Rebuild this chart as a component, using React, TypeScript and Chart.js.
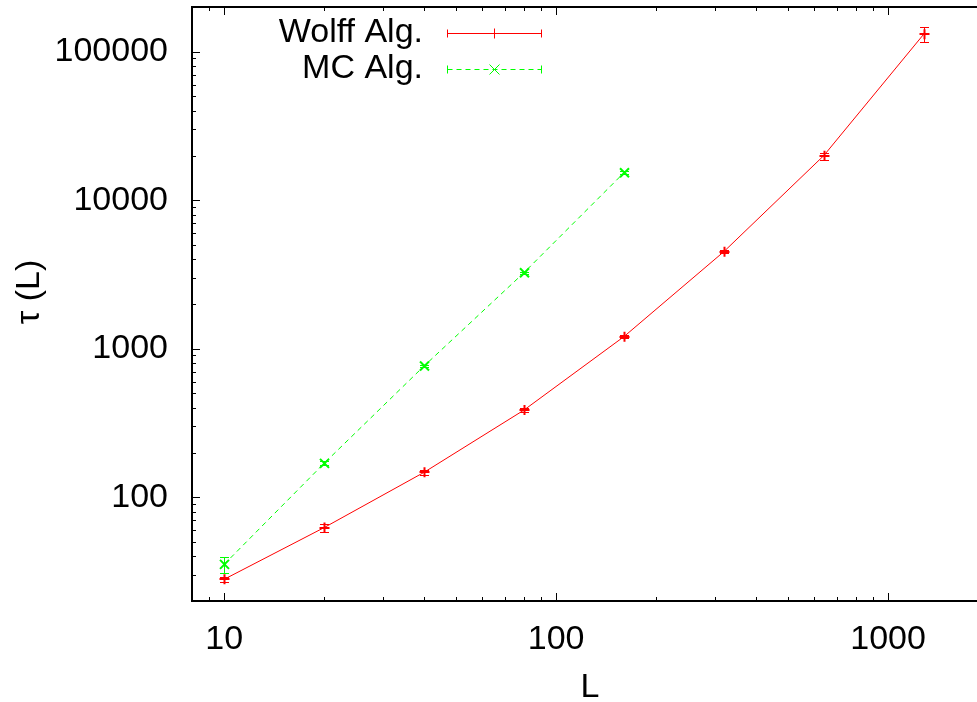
import React, { useEffect, useRef } from "react";
import { Chart, registerables } from "chart.js";

Chart.register(...registerables);

// ---- data ----
const wolffL = [10, 20, 40, 80, 160, 320, 640, 1280];
const wolffTau = [28, 62.4, 147, 386, 1205, 4500, 19950, 131000];
const wolffLo = [27, 58.6, 142, 376, 1175, 4390, 18660, 116000];
const wolffHi = [29, 66, 152, 396, 1235, 4610, 20900, 146000];

const mcL = [10, 20, 40, 80, 160];
const mcTau = [35.3, 169, 764, 3250, 15300];
const mcLo = [30.9, 164, 748, 3190, 14950];
const mcHi = [39.5, 174, 780, 3310, 15650];

const xTickLabels = [10, 100, 1000];
const yTickLabels = [100, 1000, 10000, 100000];

const X_MIN = 8;
const X_MAX = 2000;
const Y_MIN = 20;
const Y_MAX = 200000;

const FONT = "'Liberation Sans', Arial, Helvetica, sans-serif";
const RED = "#ff0000";
const GREEN = "#00ff00";
const COLORS = [RED, GREEN];
const DASHES = [[], [5, 4]];
const MARKERS = ["plus", "x"];

function logTicks(min: number, max: number): number[] {
  const out: number[] = [];
  for (let e = Math.floor(Math.log10(min)); e <= Math.ceil(Math.log10(max)); e++) {
    for (let m = 1; m <= 9; m++) {
      const v = m * Math.pow(10, e);
      if (v >= min - 1e-9 && v <= max + 1e-9) out.push(v);
    }
  }
  return out;
}

function isMajor(v: number): boolean {
  const l = Math.log10(v);
  return Math.abs(l - Math.round(l)) < 1e-9;
}

const errors: { lo: number[]; hi: number[] }[] = [
  { lo: wolffLo, hi: wolffHi },
  { lo: mcLo, hi: mcHi },
];

const gnuPlugin = {
  id: "gnuStyle",
  beforeDatasetsDraw(chart: any) {
    const { ctx, chartArea: a, scales } = chart;
    const xs = scales.x;
    const ys = scales.y;
    ctx.save();
    ctx.strokeStyle = "#000";
    ctx.lineWidth = 1;
    for (const v of logTicks(X_MIN, X_MAX)) {
      const px = Math.round(xs.getPixelForValue(v)) + 0.5;
      const len = isMajor(v) ? 8 : 4;
      ctx.beginPath();
      ctx.moveTo(px, a.bottom);
      ctx.lineTo(px, a.bottom - len);
      ctx.moveTo(px, a.top);
      ctx.lineTo(px, a.top + len);
      ctx.stroke();
    }
    for (const v of logTicks(Y_MIN, Y_MAX)) {
      const py = Math.round(ys.getPixelForValue(v)) + 0.5;
      const len = isMajor(v) ? 8 : 4;
      ctx.beginPath();
      ctx.moveTo(a.left, py);
      ctx.lineTo(a.left + len, py);
      ctx.moveTo(a.right, py);
      ctx.lineTo(a.right - len, py);
      ctx.stroke();
    }
    ctx.lineWidth = 2;
    ctx.strokeRect(a.left, a.top, a.right - a.left, a.bottom - a.top);
    ctx.restore();
  },
  afterDatasetsDraw(chart: any) {
    const { ctx, scales } = chart;
    const xs = scales.x;
    const ys = scales.y;
    ctx.save();
    chart.data.datasets.forEach((ds: any, i: number) => {
      const err = errors[i];
      ctx.strokeStyle = COLORS[i];
      ctx.lineWidth = 1;
      ctx.setLineDash([]);
      ds.data.forEach((p: any, j: number) => {
        const px = Math.round(xs.getPixelForValue(p.x)) + 0.5;
        const py = ys.getPixelForValue(p.y);
        const y1 = ys.getPixelForValue(err.lo[j]);
        const y2 = ys.getPixelForValue(err.hi[j]);
        ctx.beginPath();
        ctx.moveTo(px, y1);
        ctx.lineTo(px, y2);
        ctx.moveTo(px - 4.5, Math.round(y1) + 0.5);
        ctx.lineTo(px + 4.5, Math.round(y1) + 0.5);
        ctx.moveTo(px - 4.5, Math.round(y2) + 0.5);
        ctx.lineTo(px + 4.5, Math.round(y2) + 0.5);
        ctx.stroke();
        // bold marker (gnuplot-like)
        ctx.lineWidth = 2;
        ctx.beginPath();
        if (MARKERS[i] === "plus") {
          ctx.moveTo(px - 5, Math.round(py));
          ctx.lineTo(px + 5, Math.round(py));
          ctx.moveTo(px, py - 5);
          ctx.lineTo(px, py + 5);
        } else {
          ctx.moveTo(px - 4.5, py - 4.5);
          ctx.lineTo(px + 4.5, py + 4.5);
          ctx.moveTo(px - 4.5, py + 4.5);
          ctx.lineTo(px + 4.5, py - 4.5);
        }
        ctx.stroke();
        ctx.lineWidth = 1;
      });
    });
    ctx.restore();
  },
  afterDraw(chart: any) {
    const { ctx } = chart;
    ctx.save();
    const rows = [33, 69];
    ctx.font = `34px ${FONT}`;
    ctx.textAlign = "right";
    ctx.textBaseline = "middle";
    chart.data.datasets.forEach((ds: any, i: number) => {
      const y = rows[i] + 0.5;
      ctx.fillStyle = "#000000";
      ctx.fillText(ds.label, 423, rows[i]);
      const x1 = 447.5;
      const x2 = 541.5;
      ctx.strokeStyle = COLORS[i];
      ctx.lineWidth = 1;
      ctx.setLineDash(DASHES[i]);
      ctx.beginPath();
      ctx.moveTo(x1, y);
      ctx.lineTo(x2, y);
      ctx.stroke();
      ctx.setLineDash([]);
      ctx.beginPath();
      ctx.moveTo(x1, y - 4);
      ctx.lineTo(x1, y + 4);
      ctx.moveTo(x2, y - 4);
      ctx.lineTo(x2, y + 4);
      ctx.stroke();
      const mx = 494.5;
      ctx.beginPath();
      if (MARKERS[i] === "plus") {
        ctx.moveTo(mx, y - 5);
        ctx.lineTo(mx, y + 5);
        ctx.moveTo(mx - 5, y);
        ctx.lineTo(mx + 5, y);
      } else {
        ctx.moveTo(mx - 5, y - 5);
        ctx.lineTo(mx + 5, y + 5);
        ctx.moveTo(mx - 5, y + 5);
        ctx.lineTo(mx + 5, y - 5);
      }
      ctx.stroke();
    });
    ctx.fillStyle = "#000";
    ctx.textAlign = "center";
    ctx.textBaseline = "middle";
    ctx.font = `34px ${FONT}`;
    ctx.fillText("L", 590, 688);
    ctx.translate(30, 292);
    ctx.rotate(-Math.PI / 2);
    ctx.fillText("τ (L)", 0, 0);
    ctx.restore();
  },
};

export default function App() {
  const ref = useRef<HTMLCanvasElement | null>(null);
  useEffect(() => {
    if (!ref.current) return;
    const chart = new Chart(ref.current, {
      type: "line",
      data: {
        datasets: [
          {
            label: "Wolff Alg.",
            data: wolffL.map((x, i) => ({ x, y: wolffTau[i] })),
            borderColor: RED,
            backgroundColor: RED,
            borderWidth: 1,
            pointRadius: 0,
            fill: false,
            tension: 0,
          },
          {
            label: "MC Alg.",
            data: mcL.map((x, i) => ({ x, y: mcTau[i] })),
            borderColor: GREEN,
            backgroundColor: GREEN,
            borderWidth: 1,
            borderDash: [5, 4],
            pointRadius: 0,
            fill: false,
            tension: 0,
          },
        ],
      },
      options: {
        responsive: false,
        animation: false,
        devicePixelRatio: 1,
        layout: { padding: { left: 0, top: 7, right: 12, bottom: 0 } },
        plugins: {
          legend: { display: false },
          tooltip: { enabled: false },
        },
        scales: {
          x: {
            type: "logarithmic",
            min: X_MIN,
            max: X_MAX,
            grid: { display: false, drawTicks: false },
            border: { display: false },
            afterBuildTicks: (s: any) => {
              s.ticks = logTicks(X_MIN, X_MAX).map((v) => ({ value: v }));
            },
            afterFit: (s: any) => {
              s.height = 101;
              s.paddingLeft = 0;
              s.paddingRight = 0;
              s.paddingTop = 0;
              s.paddingBottom = 0;
            },
            ticks: {
              autoSkip: false,
              maxRotation: 0,
              minRotation: 0,
              padding: 18,
              color: "#000",
              font: { family: FONT, size: 34 },
              callback: (v: any) => (xTickLabels.includes(Number(v)) ? String(v) : ""),
            },
          },
          y: {
            type: "logarithmic",
            min: Y_MIN,
            max: Y_MAX,
            grid: { display: false, drawTicks: false },
            border: { display: false },
            afterBuildTicks: (s: any) => {
              s.ticks = logTicks(Y_MIN, Y_MAX).map((v) => ({ value: v }));
            },
            afterFit: (s: any) => {
              s.width = 192;
              s.paddingLeft = 0;
              s.paddingRight = 0;
              s.paddingTop = 0;
              s.paddingBottom = 0;
            },
            ticks: {
              autoSkip: false,
              padding: 24,
              color: "#000",
              font: { family: FONT, size: 34 },
              callback: (v: any) => (yTickLabels.includes(Number(v)) ? String(v) : ""),
            },
          },
        },
      },
      plugins: [gnuPlugin],
    } as any);
    return () => chart.destroy();
  }, []);
  return (
    <div
      style={{
        position: "fixed",
        left: 0,
        top: 0,
        width: 977,
        height: 702,
        overflow: "hidden",
        background: "#fff",
      }}
    >
      <canvas ref={ref} width={1000} height={702} style={{ width: 1000, height: 702, display: "block" }} />
    </div>
  );
}
